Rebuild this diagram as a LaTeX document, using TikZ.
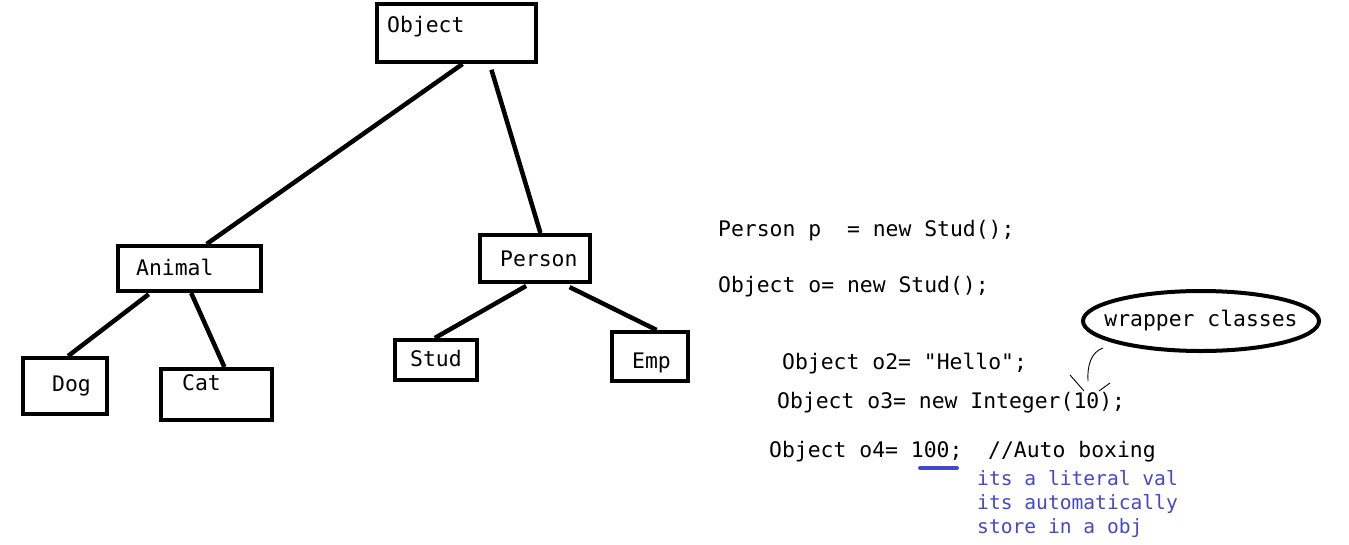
\documentclass[tikz,border=0pt]{standalone}
\usepackage{fontspec}
\setmonofont{DejaVu Sans Mono}
\usetikzlibrary{shapes.geometric}
\definecolor{penblue}{RGB}{68,72,204}
\newcommand{\codesize}{\fontsize{21.4}{25}\selectfont}
\newcommand{\notesize}{\fontsize{19.6}{24}\selectfont}

\tikzset{
  cls/.style={draw,rectangle,line width=4pt,inner sep=0pt},
  clsname/.style={anchor=base west,inner sep=0pt,font=\codesize\ttfamily},
  link/.style={line width=4.5pt},
  code/.style={anchor=base west,inner sep=0pt,font=\codesize\ttfamily},
  note/.style={anchor=base west,inner sep=0pt,font=\notesize\ttfamily,text=penblue},
  scribble/.style={line width=0.9pt},
}

\begin{document}
\begin{tikzpicture}[x=1pt,y=-1pt]
\useasboundingbox (0,0) rectangle (1349,544);

% class hierarchy
\node[cls,minimum width=159pt,minimum height=58pt] (obj) at (456.5,33) {};
\node[clsname] (obj-t) at (387,32) {Object};
\node[cls,minimum width=143pt,minimum height=45pt] (animal) at (189.5,268.5) {};
\node[clsname] (animal-t) at (136,275) {Animal};
\node[cls,minimum width=84pt,minimum height=56pt] (dog) at (65,386) {};
\node[clsname] (dog-t) at (52,391) {Dog};
\node[cls,minimum width=111pt,minimum height=51pt] (cat) at (216.5,394.5) {};
\node[clsname] (cat-t) at (182,390) {Cat};
\node[cls,minimum width=110pt,minimum height=47pt] (person) at (535,258.5) {};
\node[clsname] (person-t) at (500,266) {Person};
\node[cls,minimum width=82pt,minimum height=40pt] (stud) at (436,360) {};
\node[clsname] (stud-t) at (410,366) {Stud};
\node[cls,minimum width=76pt,minimum height=49pt] (emp) at (650,356.5) {};
\node[clsname] (emp-t) at (632,368) {Emp};

\draw[link] (obj.-79) -- (animal.55);
\draw[link,shorten <=6pt] (obj.-43) -- (person.78);
\draw[link,shorten <=2pt] (animal.212) -- (dog.84);
\draw[link] (animal.-86) -- (cat.74);
\draw[link,shorten <=4pt] (person.258) -- (stud.93);
\draw[link,shorten <=7pt] (person.-42) -- (emp.76);

% code lines
\node[code] (l1) at (718,236) {Person p\ \ = new Stud();};
\node[code] (l2) at (718,292) {Object o= new Stud();};
\node[code] (l3) at (782,369) {Object o2= "Hello";};
\node[code] (l4) at (777,408) {Object o3= new Integer(10);};
\node[code] (l5) at (769,457) {Object o4= 100;\ \ //Auto boxing};

\node[ellipse,draw,line width=4pt,inner xsep=-14pt,inner ysep=0pt,minimum width=236pt,minimum height=60pt,font=\codesize\ttfamily] (wrap) at (1201,321) {wrapper classes};

% hand marks
\coordinate (hook) at (1103,348);
\coordinate (hookend) at (1088,381);
\draw[scribble] (hook) .. controls (1091,352) and (1087,366) .. (hookend);
\draw[scribble] (1070,375) -- (1084,391);
\draw[scribble] (1110,383) -- (1099,391);

\coordinate (ul-a) at (920,468);
\coordinate (ul-b) at (957,468);
\draw[penblue,line width=4pt,line cap=round] (ul-a) -- (ul-b);

\node[note] (n1) at (977,485) {its a literal val};
\node[note] (n2) at (977,509) {its automatically};
\node[note] (n3) at (977,533) {store in a obj};
\end{tikzpicture}
\end{document}
